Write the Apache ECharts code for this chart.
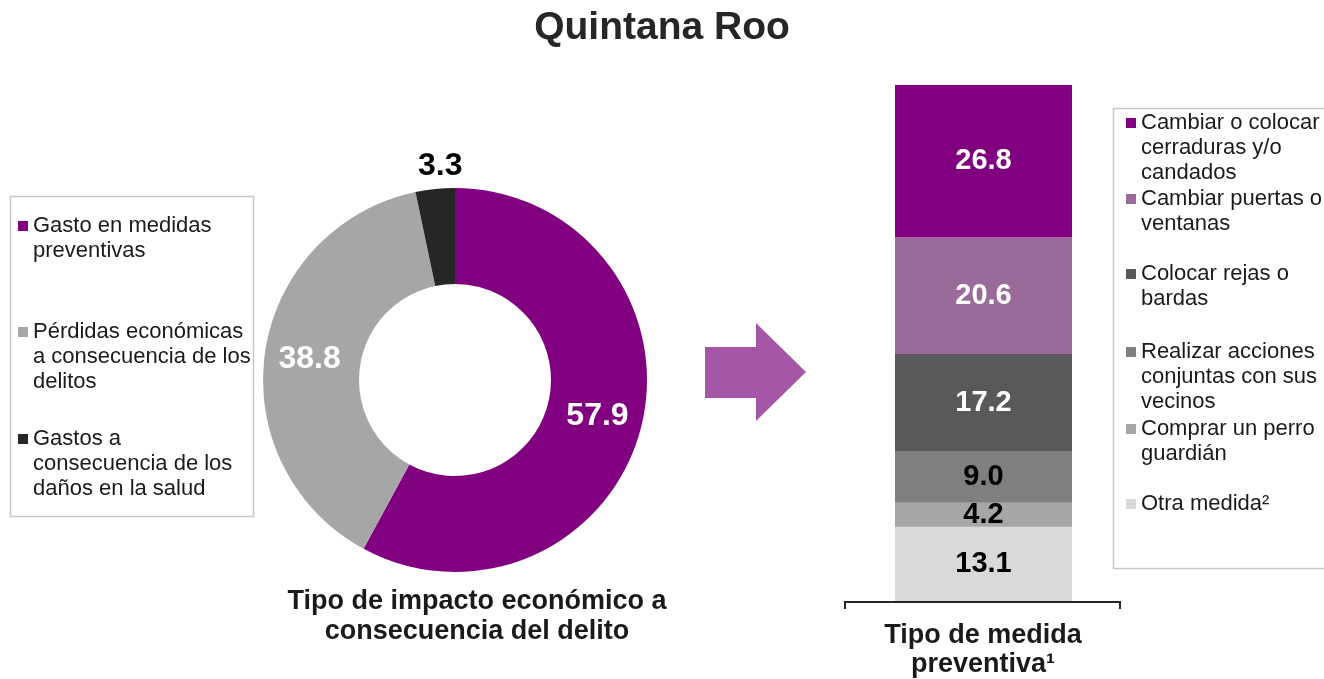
<!DOCTYPE html>
<html>
<head>
<meta charset="utf-8">
<title>Quintana Roo</title>
<script src="https://cdn.jsdelivr.net/npm/echarts@6/dist/echarts.min.js"></script>
<style>
  html, body { margin: 0; padding: 0; background: #fff; }
  #main { width: 1324px; height: 679px; }
</style>
</head>
<body>
<div id="main"></div>
<script>
// impacto economico (dona)
var impactNames = ['Gasto en medidas\npreventivas', 'Pérdidas económicas\na consecuencia de los\ndelitos', 'Gastos a\nconsecuencia de los\ndaños en la salud'];
var impactValues = [57.9, 38.8, 3.3];
var impactColors = ['#800080', '#a6a6a6', '#262626'];
var impactLabelColors = ['#fff', '#fff', '#000'];

// tipo de medida preventiva (barra apilada, de arriba hacia abajo)
var measureNames = ['Cambiar o colocar\ncerraduras y/o\ncandados', 'Cambiar puertas o\nventanas', 'Colocar rejas o\nbardas', 'Realizar acciones\nconjuntas con sus\nvecinos', 'Comprar un perro\nguardián', 'Otra medida²'];
var measureValues = [26.8, 20.6, 17.2, 9.0, 4.2, 13.1];
var measureColors = ['#800080', '#9a6a9a', '#595959', '#7f7f7f', '#a6a6a6', '#d9d9d9'];
var measureLabelColors = ['#fff', '#fff', '#fff', '#000', '#000', '#000'];

var FONT = '"Liberation Sans", Arial, sans-serif';
var LH = 25;

var myChart = echarts.init(document.getElementById('main'));

// una leyenda por elemento; se anteponen renglones vacios para que el
// cuadrito quede a la altura del primer renglon
function makeLegend(name, left, firstLineY) {
  var n = name.split('\n').length;
  return {
    data: [name],
    orient: 'vertical',
    left: left,
    top: firstLineY - (2 * n - 1) * LH / 2,
    padding: 0,
    icon: 'rect',
    itemWidth: 10,
    itemHeight: 10,
    itemGap: 0,
    selectedMode: false,
    formatter: function (nm) {
      return new Array(n).join('\n') + nm;
    },
    textStyle: {
      fontFamily: FONT,
      fontSize: 22,
      color: '#1a1a1a',
      lineHeight: LH
    }
  };
}

var leftLineY = [226, 332, 439];
var rightLineY = [123, 199, 274, 352, 429, 504];
var legends = [];
impactNames.forEach(function (n, i) { legends.push(makeLegend(n, 18, leftLineY[i])); });
measureNames.forEach(function (n, i) { legends.push(makeLegend(n, 1126, rightLineY[i])); });

var total = measureValues.reduce(function (a, b) { return a + b; }, 0);

// series apiladas: la primera queda abajo
var barSeries = [];
for (var i = measureNames.length - 1; i >= 0; i--) {
  barSeries.push({
    name: measureNames[i],
    type: 'bar',
    stack: 'medidas',
    barWidth: '100%',
    data: [measureValues[i]],
    itemStyle: { color: measureColors[i] },
    label: {
      show: true,
      position: 'inside',
      fontFamily: FONT,
      fontSize: 29,
      fontWeight: 'bold',
      color: measureLabelColors[i],
      formatter: function (p) { return p.value.toFixed(1); }
    },
    emphasis: { disabled: true }
  });
}

var pieData = impactNames.map(function (n, i) {
  var item = {
    name: n,
    value: impactValues[i],
    itemStyle: { color: impactColors[i] },
    label: { color: impactLabelColors[i] }
  };
  if (i === 2) {
    item.label.position = 'outside';
    item.labelLine = { show: false, length: 6, length2: 0 };
  }
  return item;
});

myChart.setOption({
  animation: false,
  title: {
    text: 'Quintana Roo',
    left: 'center',
    top: 4,
    textStyle: { fontFamily: FONT, fontSize: 39, fontWeight: 'bold', color: '#262626' }
  },
  legend: legends,
  grid: { left: 895, right: 252, top: 85, bottom: 78 },
  xAxis: { type: 'category', data: ['medida'], show: false },
  yAxis: { type: 'value', min: 0, max: total, show: false },
  series: [
    {
      name: 'Tipo de impacto',
      type: 'pie',
      center: [455, 380],
      radius: [96, 192],
      startAngle: 90,
      clockwise: true,
      data: pieData,
      label: {
        show: true,
        position: 'inside',
        fontFamily: FONT,
        fontSize: 32,
        fontWeight: 'bold',
        formatter: function (p) { return p.value.toFixed(1); }
      },
      labelLayout: function (p) {
        if (p.dataIndex === 2) return { dx: 33, dy: -17 };
      },
      emphasis: { disabled: true }
    }
  ].concat(barSeries),
  graphic: [
    { type: 'rect', shape: { x: 10.5, y: 196.5, width: 243, height: 320 }, style: { fill: 'none', stroke: '#c8c8c8', lineWidth: 1.5 } },
    { type: 'rect', shape: { x: 1113.5, y: 108.5, width: 230, height: 460 }, style: { fill: 'none', stroke: '#c8c8c8', lineWidth: 1.5 } },
    {
      type: 'polygon',
      shape: { points: [[705, 347], [756, 347], [756, 323], [806, 372], [756, 421], [756, 398], [705, 398]] },
      style: { fill: '#a656a7' }
    },
    {
      type: 'polyline',
      shape: { points: [[845, 609], [845, 602], [1120, 602], [1120, 609]] },
      style: { stroke: '#262626', lineWidth: 2, fill: 'none' }
    },
    {
      type: 'text',
      x: 477, y: 587,
      style: { text: 'Tipo de impacto económico a\nconsecuencia del delito', align: 'center', font: 'bold 27px ' + FONT, fill: '#1a1a1a', lineHeight: 30 }
    },
    {
      type: 'text',
      x: 983, y: 621,
      style: { text: 'Tipo de medida\npreventiva¹', align: 'center', font: 'bold 27px ' + FONT, fill: '#1a1a1a', lineHeight: 29 }
    }
  ]
});
</script>
</body>
</html>
